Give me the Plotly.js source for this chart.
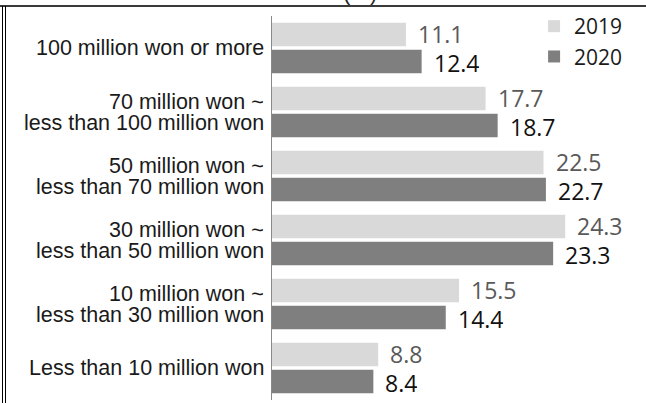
<!DOCTYPE html>
<html><head><meta charset="utf-8">
<script src="https://cdn.plot.ly/plotly-3.0.1.min.js"></script>
<style>
html,body{margin:0;padding:0;background:#fff;}
#wrap{position:relative;width:646px;height:403px;overflow:hidden;background:#fff;}
#chart{position:absolute;left:0;top:0;width:646px;height:403px;}
.ln{position:absolute;background:#000;pointer-events:none;}
</style>
</head><body>
<div id="wrap">
<div id="chart"></div>
<div class="ln" style="left:0;top:5px;width:646px;height:2px;background:#3a3a3a"></div>
<div class="ln" style="left:2px;top:6px;width:1px;height:397px"></div>
<div class="ln" style="left:5px;top:6px;width:1px;height:397px"></div>
</div>
<script>
// ---- data ----
const categories = [
  "100 million won or more",
  "70 million won ~<br>less than 100 million won",
  "50 million won ~<br>less than 70 million won",
  "30 million won ~<br>less than 50 million won",
  "10 million won ~<br>less than 30 million won",
  "Less than 10 million won"
];
const seriesNames = ["2019", "2020"];
const values2019 = [11.1, 17.7, 22.5, 24.3, 15.5, 8.8];
const values2020 = [12.4, 18.7, 22.7, 23.3, 14.4, 8.4];
const unitLabel = "(%)";

// ---- styles ----
const colors = ["#d9d9d9", "#7f7f7f"];
const labelColors = ["#595959", "#111111"];
const valueFont = "Open Sans, sans-serif";
const catFont = "Liberation Sans, Arial, sans-serif";

const traces = [values2019, values2020].map((vals, i) => ({
  type: "bar",
  orientation: "h",
  name: seriesNames[i],
  x: vals,
  y: categories,
  marker: { color: colors[i], line: { width: 0 } },
  hoverinfo: "skip"
}));

const annotations = [];
// category labels (one annotation per line for tight line spacing)
categories.forEach(cat => {
  const lines = cat.split("<br>");
  lines.forEach((ln, k) => {
    let shift = 0;
    if (lines.length === 2) shift = (k === 0) ? 10.5 : -10.5;
    annotations.push({
      xref: "paper", x: 0, xanchor: "right", xshift: -6,
      yref: "y", y: cat, yanchor: "middle", yshift: shift,
      height: 20, valign: "middle",
      text: ln, showarrow: false,
      font: { family: catFont, size: 21.5, color: "#1a1a1a" }
    });
  });
});
// value labels
[values2019, values2020].forEach((vals, i) => {
  vals.forEach((v, j) => {
    annotations.push({
      xref: "x", x: v, xanchor: "left", xshift: 10,
      yref: "y", y: categories[j], yanchor: "middle", yshift: i === 0 ? 14 : -15,
      height: 24, valign: "middle",
      text: v.toFixed(1), showarrow: false,
      font: { family: valueFont, size: 23, color: labelColors[i] }
    });
  });
});
// partially cut unit label at top (as in the reference)
annotations.push({
  xref: "paper", x: 0.243, xanchor: "center",
  yref: "paper", y: 1, yanchor: "bottom", yshift: 9,
  text: unitLabel, showarrow: false,
  font: { family: catFont, size: 22, color: "#222" }
});

const layout = {
  width: 646, height: 403,
  margin: { l: 272, r: 12, t: 16, b: 3, pad: 0 },
  paper_bgcolor: "rgba(0,0,0,0)",
  plot_bgcolor: "#fff",
  barmode: "group",
  bargap: 0.15,
  bargroupgap: 0.135,
  showlegend: true,
  legend: {
    x: 0.724, xanchor: "left", y: 1.026, yanchor: "top",
    font: { family: valueFont, size: 21, color: "#1a1a1a" },
    bgcolor: "rgba(0,0,0,0)", borderwidth: 0, traceorder: "normal"
  },
  xaxis: { visible: false, range: [0, 30], fixedrange: true },
  yaxis: {
    autorange: "reversed", showticklabels: false, ticks: "",
    showline: true, linecolor: "#8a8a8a", linewidth: 1,
    showgrid: false, zeroline: false, fixedrange: true
  },
  annotations: annotations,
  hovermode: false
};

Plotly.newPlot("chart", traces, layout, { staticPlot: true, displayModeBar: false });
</script>
</body></html>
